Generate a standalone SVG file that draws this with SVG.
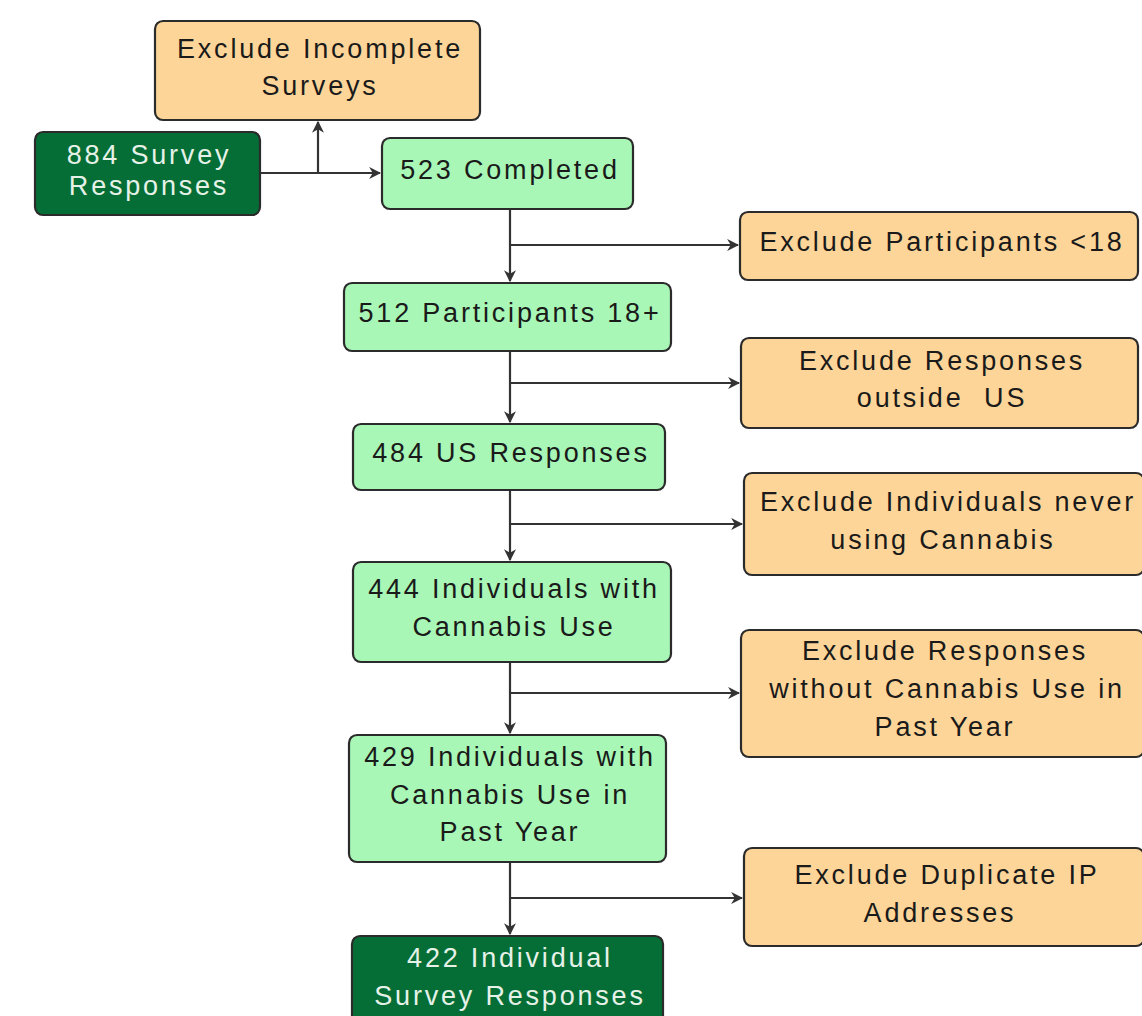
<svg xmlns="http://www.w3.org/2000/svg" width="1142" height="1016" viewBox="0 0 1142 1016">
<style>
.box{stroke:#2b2b2b;stroke-width:2.2}
.ex{fill:#fdd598}
.lg{fill:#a8f7b6}
.dg{fill:#056e36}
text{font-family:"Liberation Sans",Arial,sans-serif;font-size:27px;letter-spacing:2.8px;text-anchor:middle}
.t{fill:#1a1a1a}
.w{fill:#e6f2e8}
.c{fill:none;stroke:#333;stroke-width:2.2}
</style>
<defs>
<marker id="ah" viewBox="0 0 10 10" refX="9" refY="5" markerWidth="5.5" markerHeight="5.5" orient="auto" markerUnits="strokeWidth">
<path d="M0,0 L10,5 L0,10 L3,5 z" fill="#333"/>
</marker>
</defs>
<rect width="1142" height="1016" fill="#fff"/>
<g id="connectors">
<path class="c" d="M260,173 H380" marker-end="url(#ah)"/>
<path class="c" d="M318,173 V122" marker-end="url(#ah)"/>
<path class="c" d="M510,209 V281" marker-end="url(#ah)"/>
<path class="c" d="M510,245 H738" marker-end="url(#ah)"/>
<path class="c" d="M510,351 V422" marker-end="url(#ah)"/>
<path class="c" d="M510,383 H739" marker-end="url(#ah)"/>
<path class="c" d="M510,490 V560" marker-end="url(#ah)"/>
<path class="c" d="M510,524 H742" marker-end="url(#ah)"/>
<path class="c" d="M510,662 V733" marker-end="url(#ah)"/>
<path class="c" d="M510,693 H739" marker-end="url(#ah)"/>
<path class="c" d="M510,862 V934" marker-end="url(#ah)"/>
<path class="c" d="M510,898 H742" marker-end="url(#ah)"/>
</g>
<g id="exclude-incomplete">
<rect class="box ex" x="155" y="21" width="325" height="99" rx="8"/>
<text class="t" x="320" y="58">Exclude Incomplete</text>
<text class="t" x="320" y="95">Surveys</text>
</g>
<g id="survey-884">
<rect class="box dg" x="35" y="132" width="225" height="83" rx="8"/>
<text class="w" x="149" y="164">884 Survey</text>
<text class="w" x="149" y="195">Responses</text>
</g>
<g id="completed-523">
<rect class="box lg" x="382" y="138" width="251" height="71" rx="8"/>
<text class="t" x="510" y="179">523 Completed</text>
</g>
<g id="exclude-under18">
<rect class="box ex" x="740" y="212" width="398" height="68" rx="8"/>
<text class="t" x="942" y="251">Exclude Participants &lt;18</text>
</g>
<g id="participants-512">
<rect class="box lg" x="344" y="283" width="327" height="68" rx="8"/>
<text class="t" x="510" y="322">512 Participants 18+</text>
</g>
<g id="exclude-outside-us">
<rect class="box ex" x="741" y="338" width="397" height="90" rx="8"/>
<text class="t" x="942" y="370">Exclude Responses</text>
<text class="t" x="942" y="407" xml:space="preserve">outside  US</text>
</g>
<g id="us-484">
<rect class="box lg" x="353" y="424" width="312" height="66" rx="8"/>
<text class="t" x="511" y="462">484 US Responses</text>
</g>
<g id="exclude-never">
<rect class="box ex" x="744" y="473" width="400" height="102" rx="8"/>
<text class="t" x="948" y="511">Exclude Individuals never</text>
<text class="t" x="943" y="549">using Cannabis</text>
</g>
<g id="cannabis-444">
<rect class="box lg" x="353" y="562" width="318" height="100" rx="8"/>
<text class="t" x="514" y="598">444 Individuals with</text>
<text class="t" x="514" y="636">Cannabis Use</text>
</g>
<g id="exclude-past-year">
<rect class="box ex" x="741" y="630" width="403" height="127" rx="8"/>
<text class="t" x="945" y="660">Exclude Responses</text>
<text class="t" x="947" y="698">without Cannabis Use in</text>
<text class="t" x="945" y="736">Past Year</text>
</g>
<g id="past-year-429">
<rect class="box lg" x="349" y="735" width="317" height="127" rx="8"/>
<text class="t" x="510" y="766">429 Individuals with</text>
<text class="t" x="510" y="804">Cannabis Use in</text>
<text class="t" x="510" y="841">Past Year</text>
</g>
<g id="exclude-duplicate-ip">
<rect class="box ex" x="744" y="848" width="400" height="98" rx="8"/>
<text class="t" x="947" y="884">Exclude Duplicate IP</text>
<text class="t" x="940" y="922">Addresses</text>
</g>
<g id="final-422">
<rect class="box dg" x="352" y="936" width="311" height="95" rx="8"/>
<text class="w" x="510" y="967">422 Individual</text>
<text class="w" x="510" y="1005">Survey Responses</text>
</g>
</svg>
